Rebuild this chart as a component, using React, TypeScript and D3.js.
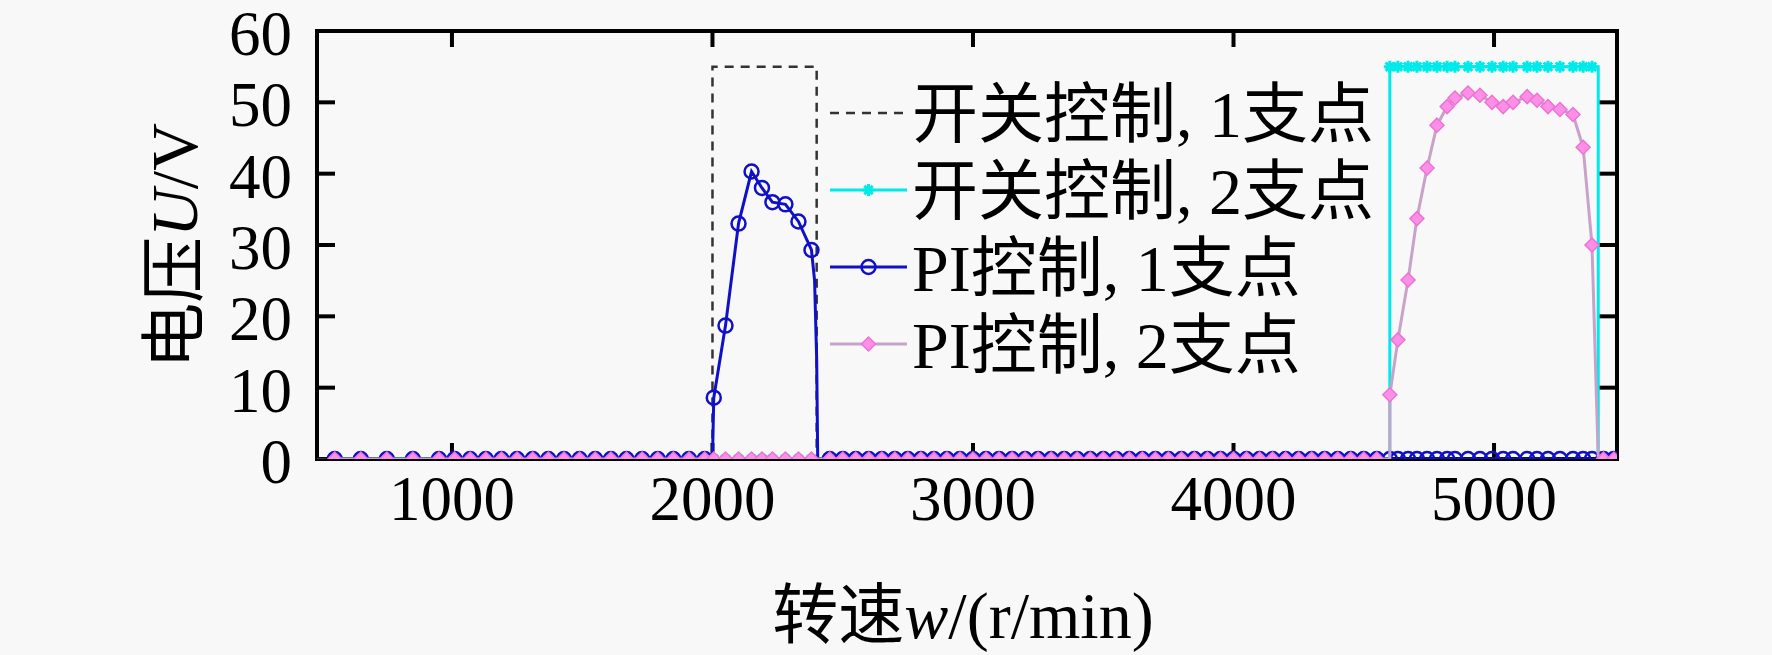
import * as d3 from "d3";

// speed grids (r/min) and voltages (V)
const gridLow = [550, 650, 750, 850, 950, 1010, 1070, 1130, 1190, 1250, 1310, 1370, 1430, 1490, 1550, 1610, 1670, 1730, 1790, 1850, 1910, 1970];
const gridMid = [2005, 2050, 2100, 2150, 2190, 2230, 2280, 2330, 2380];
const gridGap = [2450, 2500, 2550, 2600, 2650, 2700, 2750, 2800, 2850, 2900, 2950, 3000, 3050, 3100, 3150, 3200, 3250, 3300, 3350, 3400, 3450, 3500, 3550, 3600, 3650, 3700, 3750, 3800, 3850, 3900, 3950, 4000, 4050, 4100, 4150, 4200, 4250, 4300, 4350, 4400, 4450, 4500, 4550];
const gridHigh = [4600, 4631, 4670, 4704, 4743, 4781, 4820, 4850, 4900, 4946, 4992, 5035, 5073, 5127, 5165, 5207, 5253, 5303, 5342, 5376];
const gridEnd = [5420, 5460];

const switch1Speed = [482, 2000, 2000, 2400, 2400, 5472];
const switch1Volt = [0, 0, 55, 55, 0, 0];
const switch2Level = 55;
const switch2Edges = [4600, 5400];

const pi1Volt = [8.6, 18.7, 33, 40.3, 38, 36, 35.7, 33.3, 29.3];
const pi1TailSpeed = [2392, 2400, 2404];
const pi1TailVolt = [25, 14, 0];

const pi2Volt = [9, 16.7, 25.1, 33.7, 40.8, 46.8, 49.4, 50.6, 51.3, 51, 50, 49.4, 50, 50.8, 50.3, 49.4, 49, 48.3, 43.7, 30];

const xTicks = [1000, 2000, 3000, 4000, 5000];
const yTicks = [0, 10, 20, 30, 40, 50, 60];

const legendLabels = ["开关控制, 1支点", "开关控制, 2支点", "PI控制, 1支点", "PI控制, 2支点"];

type P = [number, number];

const W = 1772;
const H = 655;
const M = { left: 317, right: 1617, top: 31, bottom: 459 };
const FONT = '"Liberation Serif", "Times New Roman", "Noto Sans CJK SC", serif';
const FS = 66;
const TICK_FS = 63;

const BLUE = "#1010c8";
const CYAN = "#00eaea";
const PINK_LINE = "#c8a2c8";
const PINK = "#ff8fe6";
const PINK_EDGE = "#ea74d6";

const zeros = (g: number[]): P[] => g.map((s) => [s, 0] as P);

export default function App() {
  const x = d3.scaleLinear().domain([482, 5472]).range([M.left, M.right]);
  const y = d3.scaleLinear().domain([0, 60]).range([M.bottom, M.top]);
  const line = d3
    .line<P>()
    .x((d) => x(d[0]))
    .y((d) => y(d[1]));

  // series
  const sw1: P[] = switch1Speed.map((s, i) => [s, switch1Volt[i]] as P);

  const sw2Marks: P[] = [
    ...zeros(gridLow),
    ...zeros(gridMid),
    ...zeros(gridGap),
    ...gridHigh.map((s) => [s, switch2Level] as P),
    ...zeros(gridEnd),
  ];
  const sw2Line: P[] = [
    ...zeros(gridLow),
    ...zeros(gridMid),
    ...zeros(gridGap),
    [switch2Edges[0], 0],
    [switch2Edges[0], switch2Level],
    ...gridHigh.map((s) => [s, switch2Level] as P),
    [switch2Edges[1], switch2Level],
    [switch2Edges[1], 0],
    ...zeros(gridEnd),
  ];

  const pi1Mid: P[] = gridMid.map((s, i) => [s, pi1Volt[i]] as P);
  const pi1Marks: P[] = [...zeros(gridLow), ...pi1Mid, ...zeros(gridGap), ...zeros(gridHigh), ...zeros(gridEnd)];
  const pi1Line: P[] = [
    ...zeros(gridLow),
    [2000, 0],
    ...pi1Mid,
    ...pi1TailSpeed.map((s, i) => [s, pi1TailVolt[i]] as P),
    ...zeros(gridGap),
    ...zeros(gridHigh),
    ...zeros(gridEnd),
  ];

  const pi2High: P[] = gridHigh.map((s, i) => [s, pi2Volt[i]] as P);
  const pi2Marks: P[] = [...zeros(gridLow), ...zeros(gridMid), ...zeros(gridGap), ...pi2High, ...zeros(gridEnd)];
  const pi2Line: P[] = [
    ...zeros(gridLow),
    ...zeros(gridMid),
    ...zeros(gridGap),
    [4600, 0],
    ...pi2High,
    [5400, 0],
    ...zeros(gridEnd),
  ];

  const star = "M-6,0H6M0,-6V6M-4.2,-4.2L4.2,4.2M-4.2,4.2L4.2,-4.2";
  const diamond = "M0,-7L7,0L0,7L-7,0Z";

  const legX0 = 830;
  const legX1 = 907;
  const legTextX = 912;
  const legRowY = (i: number) => 113 + i * 77;

  return (
    <svg
      width={W}
      height={H}
      style={{ position: "absolute", left: 0, top: 0, background: "#f8f8f8" }}
      fontFamily={FONT}
    >
      <defs>
        <clipPath id="plotClip">
          <rect x={M.left} y={M.top} width={M.right - M.left} height={M.bottom - M.top} />
        </clipPath>
      </defs>
      <rect width={W} height={H} fill="#f8f8f8" />

      {/* frame */}
      <rect
        x={M.left}
        y={M.top}
        width={M.right - M.left}
        height={M.bottom - M.top}
        fill="none"
        stroke="#000"
        strokeWidth={4}
      />
      {xTicks.map((t) => (
        <g key={`xt${t}`} stroke="#000" strokeWidth={4}>
          <line x1={x(t)} x2={x(t)} y1={M.bottom} y2={M.bottom - 16} />
          <line x1={x(t)} x2={x(t)} y1={M.top} y2={M.top + 16} />
        </g>
      ))}
      {yTicks.map((t) => (
        <g key={`yt${t}`} stroke="#000" strokeWidth={4}>
          <line x1={M.left} x2={M.left + 18} y1={y(t)} y2={y(t)} />
          <line x1={M.right} x2={M.right - 18} y1={y(t)} y2={y(t)} />
        </g>
      ))}

      {/* tick labels */}
      {xTicks.map((t) => (
        <text key={`xl${t}`} x={x(t)} y={520} fontSize={TICK_FS} textAnchor="middle">
          {t}
        </text>
      ))}
      {yTicks.map((t) => (
        <text key={`yl${t}`} x={292} y={y(t) + 24} fontSize={TICK_FS} textAnchor="end">
          {t}
        </text>
      ))}

      {/* axis titles */}
      <text x={963} y={638} fontSize={FS} textAnchor="middle">
        转速<tspan fontStyle="italic">w</tspan>/(r/min)
      </text>
      <text transform="translate(197,246) rotate(-90)" fontSize={FS} textAnchor="middle">
        电压<tspan fontStyle="italic">U</tspan>/V
      </text>

      <g clipPath="url(#plotClip)">
        {/* switch control, 1 support */}
        <path d={line(sw1) ?? ""} fill="none" stroke="#333" strokeWidth={2.5} strokeDasharray="9 7" />

        {/* switch control, 2 supports */}
        <path d={line(sw2Line) ?? ""} fill="none" stroke={CYAN} strokeWidth={3} />
        {sw2Marks.map((d, i) => (
          <path key={`s2${i}`} d={star} transform={`translate(${x(d[0])},${y(d[1])})`} stroke={CYAN} strokeWidth={3} fill="none" />
        ))}

        {/* PI control, 1 support */}
        <path d={line(pi1Line) ?? ""} fill="none" stroke={BLUE} strokeWidth={3} />
        {pi1Marks.map((d, i) => (
          <circle key={`p1${i}`} cx={x(d[0])} cy={y(d[1])} r={7} fill="none" stroke={BLUE} strokeWidth={2.5} />
        ))}

        {/* PI control, 2 supports */}
        <path d={line(pi2Line) ?? ""} fill="none" stroke={PINK_LINE} strokeWidth={3} />
        {pi2Marks.map((d, i) => (
          <path key={`p2${i}`} d={diamond} transform={`translate(${x(d[0])},${y(d[1])})`} fill={PINK} stroke={PINK_EDGE} strokeWidth={1.5} />
        ))}
      </g>

      {/* legend */}
      <g>
        <line x1={legX0} x2={legX1} y1={legRowY(0)} y2={legRowY(0)} stroke="#333" strokeWidth={2.5} strokeDasharray="9 7" />
        <line x1={legX0} x2={legX1} y1={legRowY(1)} y2={legRowY(1)} stroke={CYAN} strokeWidth={3} />
        <path d={star} transform={`translate(${(legX0 + legX1) / 2},${legRowY(1)})`} stroke={CYAN} strokeWidth={3} />
        <line x1={legX0} x2={legX1} y1={legRowY(2)} y2={legRowY(2)} stroke={BLUE} strokeWidth={3} />
        <circle cx={(legX0 + legX1) / 2} cy={legRowY(2)} r={7} fill="none" stroke={BLUE} strokeWidth={2.5} />
        <line x1={legX0} x2={legX1} y1={legRowY(3)} y2={legRowY(3)} stroke={PINK_LINE} strokeWidth={3} />
        <path d={diamond} transform={`translate(${(legX0 + legX1) / 2},${legRowY(3)})`} fill={PINK} stroke={PINK_EDGE} strokeWidth={1.5} />
        {legendLabels.map((s, i) => (
          <text key={s} x={legTextX} y={legRowY(i) + 24} fontSize={FS}>
            {s}
          </text>
        ))}
      </g>
    </svg>
  );
}
